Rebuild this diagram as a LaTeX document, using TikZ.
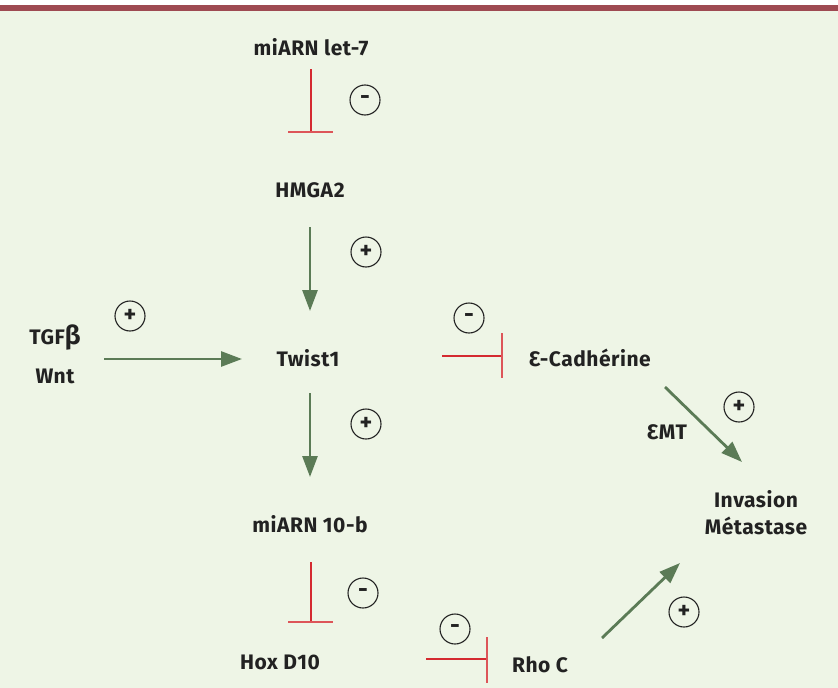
\documentclass[tikz,border=0pt]{standalone}
\usepackage{fontspec}
\setmainfont{Fira Sans}[LetterSpace=2.5]
\usetikzlibrary{arrows.meta}
\definecolor{bg}{HTML}{EEF5E6}
\definecolor{topbar}{HTML}{9E4A52}
\definecolor{actgreen}{HTML}{5B7B56}
\definecolor{inhred}{HTML}{D42A30}
\definecolor{txt}{HTML}{222222}
\tikzset{
  lbl/.style={font=\fontsize{21}{24}\selectfont\bfseries, text=txt, inner sep=1pt, align=center},
  act/.style={draw=actgreen, line width=2.8pt, -{Triangle[length=21pt,width=15pt]}},
  inh/.style={draw=inhred, line width=1.6pt},
  inhbar/.style={draw=inhred!80!white, line width=2pt},
  sign/.style={circle, draw=txt, line width=1.1pt, minimum size=30pt, inner sep=0pt, font=\fontsize{24}{24}\selectfont\bfseries, text=txt}
}
\begin{document}
\begin{tikzpicture}[x=1pt,y=-1pt]
\useasboundingbox (0,0) rectangle (838,688);
\fill[white] (0,0) rectangle (838,688);
\fill[bg] (0,11) rectangle (838,688);
\fill[topbar] (0,5) rectangle (838,11);

% nodes
\node[lbl] (let7) at (311,47) {miARN let-7};
\node[lbl] (hmga2) at (310,190) {HMGA2};
\node[lbl] (twist) at (308,358) {Twist1};
\node[lbl] (tgf) at (55,338) {TGF{\fontsize{26}{26}\selectfont β}};
\node[lbl] (wnt) at (55,376) {Wnt};
\node[lbl] (ecad) at (590,358) {Ɛ-Cadhérine};
\node[lbl] (mir10) at (310,524) {miARN 10-b};
\node[lbl] (hox) at (280,662) {Hox D10};
\node[lbl] (rhoc) at (540,665) {Rho C};
\node[lbl] (emt) at (667,432) {ƐMT};
\node[lbl, align=center] (inv) at (756,513) {Invasion\\[3pt]Métastase};

% signs
\node[sign] (s1) at (365,100) {-};
\node[sign] (s2) at (366,252) {+};
\node[sign] (s3) at (130,316) {+};
\node[sign] (s4) at (469,318) {-};
\node[sign] (s5) at (366,424) {+};
\node[sign] (s6) at (363,593) {-};
\node[sign] (s7) at (455,629) {-};
\node[sign] (s8) at (684,612) {+};
\node[sign] (s9) at (739,407) {+};

% connectors
\coordinate (a1) at (311,69);
\coordinate (a1e) at (311,132);
\draw[inh] (a1) -- (a1e);
\draw[inhbar] (288,132) -- (333,132);

\coordinate (b1) at (310,227);
\coordinate (b1e) at (310,311);
\draw[act] (b1) -- (b1e);

\coordinate (c1) at (104,359);
\coordinate (c1e) at (242,359);
\draw[act] (c1) -- (c1e);

\coordinate (d1) at (442,356);
\coordinate (d1e) at (502,356);
\draw[inh] (d1) -- (d1e);
\draw[inhbar] (502,333) -- (502,378);

\coordinate (e1) at (310,393);
\coordinate (e1e) at (310,477);
\draw[act] (e1) -- (e1e);

\coordinate (f1) at (311,562);
\coordinate (f1e) at (311,622);
\draw[inh] (f1) -- (f1e);
\draw[inhbar] (288,622) -- (333,622);

\coordinate (g1) at (426,659);
\coordinate (g1e) at (487,659);
\draw[inh] (g1) -- (g1e);
\draw[inhbar] (487,637) -- (487,683);

\coordinate (h1) at (602,638);
\coordinate (h1e) at (680,563);
\draw[act] (h1) -- (h1e);

\coordinate (k1) at (665,387);
\coordinate (k1e) at (742,462);
\draw[act] (k1) -- (k1e);
\end{tikzpicture}
\end{document}
